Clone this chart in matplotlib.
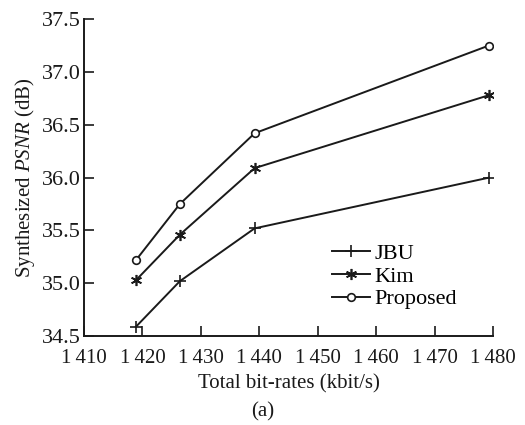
import matplotlib
matplotlib.use("Agg")
import matplotlib.pyplot as plt

rates = [1418.9, 1426.4, 1439.2, 1479.3]
jbu = [34.59, 35.02, 35.52, 36.00]
kim = [35.03, 35.46, 36.09, 36.78]
proposed = [35.22, 35.75, 36.42, 37.25]
xticks = [1410, 1420, 1430, 1440, 1450, 1460, 1470, 1480]
yticks = [34.5, 35.0, 35.5, 36.0, 36.5, 37.0, 37.5]

plt.rcParams['font.family'] = ['Liberation Serif', 'DejaVu Serif']
plt.rcParams['mathtext.fontset'] = 'custom'
plt.rcParams['mathtext.rm'] = 'Liberation Serif'
plt.rcParams['mathtext.it'] = 'Liberation Serif:italic'

c = '#1a1a1a'
fs = 15
fig = plt.figure(figsize=(5.25, 4.25), dpi=100)
ax = fig.add_axes([0.16, 0.209, 0.779, 0.746])

ax.plot(rates, jbu, color=c, lw=1.4, marker='+', ms=9, mew=1.2, label='JBU')
ax.plot(rates, kim, color=c, lw=1.4, marker=(6, 2, 0), ms=8, mew=1.2, label='Kim')
ax.plot(rates, proposed, color=c, lw=1.4, marker='o', ms=5.5, mfc='white', mew=1.2, label='Proposed')

ax.set_xlim(1410, 1480)
ax.set_ylim(34.5, 37.5)
ax.set_xticks(xticks)
ax.set_xticklabels(['1\u2009' + str(v)[1:] for v in xticks])
ax.set_yticks(yticks)
ax.set_yticklabels([f'{v:.1f}' for v in yticks])
ax.tick_params(direction='in', length=7, width=1.2, colors=c)
ax.tick_params(axis='y', pad=2, labelsize=16)
ax.tick_params(axis='x', pad=9, labelsize=fs)
for s in ['top', 'right']:
    ax.spines[s].set_visible(False)
for s in ['left', 'bottom']:
    ax.spines[s].set_linewidth(1.4)
    ax.spines[s].set_color(c)

ax.set_xlabel('Total bit-rates (kbit/s)', fontsize=fs, color=c, labelpad=5)
ax.set_ylabel('Synthesized $\\it{PSNR}$ (dB)', fontsize=fs, color=c, labelpad=4)

ax.legend(loc='upper left', bbox_to_anchor=(0.606, 0.293), frameon=False, fontsize=16,
          handlelength=1.7, handletextpad=0.2, labelspacing=0.1, borderpad=0,
          borderaxespad=0)

fig.text(0.5, 0.031, '(a)', ha='center', va='center', fontsize=fs, color=c)
fig.savefig('out.png', dpi=100)
